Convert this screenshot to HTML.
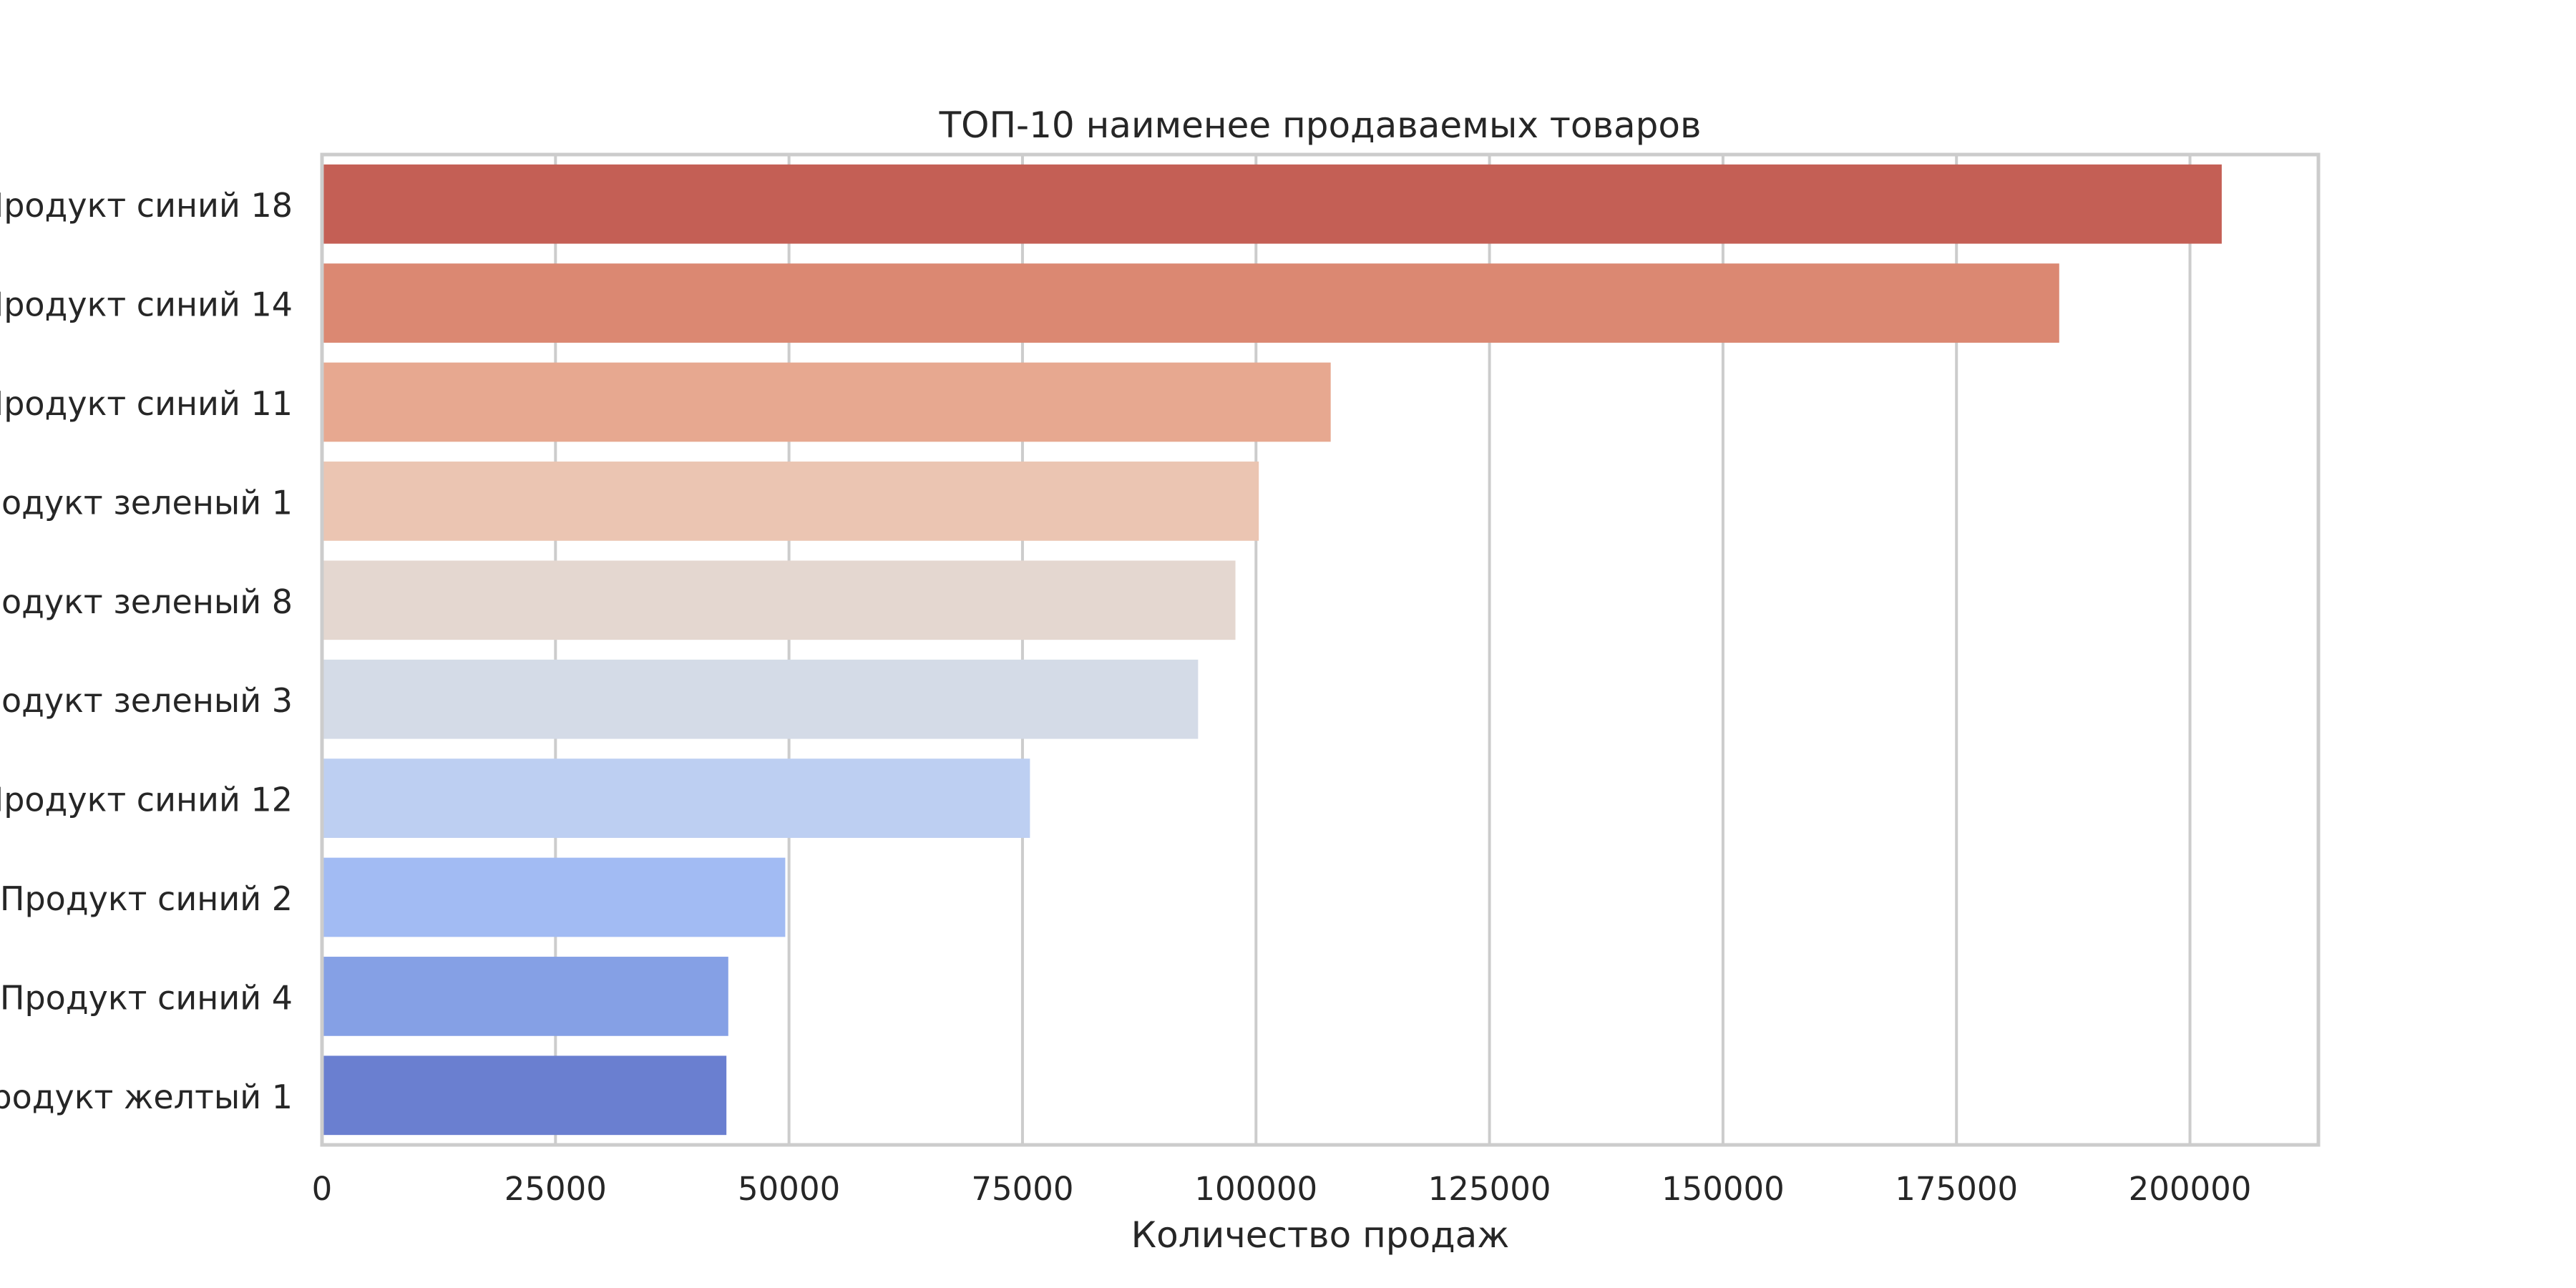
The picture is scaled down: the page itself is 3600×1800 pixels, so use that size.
<!DOCTYPE html>
<html><head><meta charset="utf-8"><style>html,body{margin:0;padding:0;background:#fff}svg{display:block}</style></head>
<body>
<svg id="chart" width="3600" height="1800" xmlns="http://www.w3.org/2000/svg" font-family="'DejaVu Sans','Liberation Sans',sans-serif"></svg>
<script>
const categories = ["Продукт синий 18","Продукт синий 14","Продукт синий 11","Продукт зеленый 1","Продукт зеленый 8","Продукт зеленый 3","Продукт синий 12","Продукт синий 2","Продукт синий 4","Продукт желтый 1"];
const salesValues = [203400,186000,108000,100300,97800,93800,75800,49600,43500,43300];
const tickValues = [0,25000,50000,75000,100000,125000,150000,175000,200000];
const barColors = ["#c45f55","#db8872","#e7a890","#ebc5b2","#e4d7d0","#d4dbe7","#bdcff2","#a2bbf3","#85a0e5","#6a7fd0"];
const NS="http://www.w3.org/2000/svg";
const svg=document.getElementById('chart');
const L=450,R=3240,T=216,B=1600,XMAX=213750;
const x=v=>L+(v/XMAX)*(R-L);
const band=(B-T)/categories.length;
const y=i=>T+band*i;
function mk(t,a,p){const e=document.createElementNS(NS,t);for(const k in a)e.setAttribute(k,a[k]);(p||svg).appendChild(e);return e;}
tickValues.forEach(v=>{
  const g=mk('line',{x1:x(v),x2:x(v),y1:T,y2:B,stroke:'#cccccc','stroke-width':4});
  
  
  const t=mk('text',{x:x(v),y:1677,'font-size':45,'text-anchor':'middle',fill:'#262626'});
  t.textContent=v;
  
  
});
categories.forEach((c,i)=>{
  const h=band*0.8;
  const r=mk('rect',{x:x(0),y:y(i)+band*0.1,width:x(salesValues[i])-x(0),height:h,fill:barColors[i]});
  
  
  const t=mk('text',{x:409,y:y(i)+band/2+18,'font-size':46,'text-anchor':'end',fill:'#262626'});
  t.textContent=c;
  
  
});
const f=mk('rect',{x:L,y:T,width:R-L,height:B-T,fill:'none',stroke:'#cccccc','stroke-width':5});


const ti=mk('text',{x:(L+R)/2,y:192,'font-size':50,'text-anchor':'middle',fill:'#262626'});
ti.textContent='ТОП-10 наименее продаваемых товаров';


const xl=mk('text',{x:(L+R)/2,y:1743,'font-size':50,'text-anchor':'middle',fill:'#262626'});
xl.textContent='Количество продаж';


</script>
</body></html>
